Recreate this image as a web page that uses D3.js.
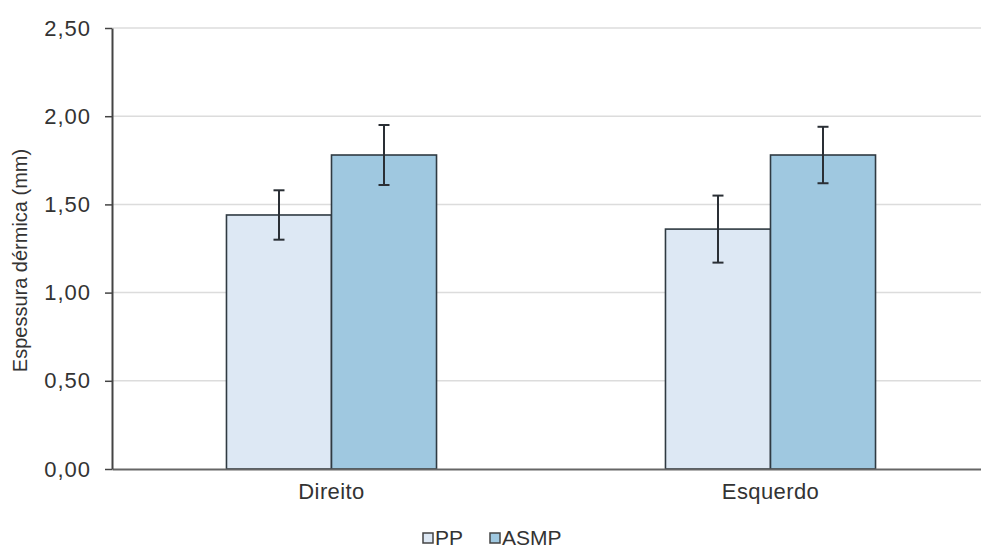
<!DOCTYPE html>
<html>
<head>
<meta charset="utf-8">
<script src="https://cdn.jsdelivr.net/npm/d3@7"></script>
<style>
  html, body { margin: 0; padding: 0; background: #fff; }
  svg { display: block; font-family: "Liberation Sans", Arial, sans-serif; }
</style>
</head>
<body>
<svg id="chart" width="981" height="550"></svg>
<script>
const categories = ["Direito", "Esquerdo"];
const series = ["PP", "ASMP"];
const ppValues = [1.44, 1.36];
const ppErrors = [0.14, 0.19];
const asmpValues = [1.78, 1.78];
const asmpErrors = [0.17, 0.16];
const yTicks = [0, 0.5, 1.0, 1.5, 2.0, 2.5];
const colors = { PP: "#dde8f4", ASMP: "#9fc8e0" };

const data = categories.map((c, i) => ({
  category: c,
  values: [
    { key: "PP", value: ppValues[i], err: ppErrors[i] },
    { key: "ASMP", value: asmpValues[i], err: asmpErrors[i] }
  ]
}));

const svg = d3.select("#chart");
const mLeft = 112, mRight = 990, mTop = 28, mBottom = 469;

const x0 = d3.scaleBand().domain(categories).range([mLeft, mRight]).padding(0);
const x1 = d3.scaleBand().domain(series).range([0, x0.bandwidth()]).paddingInner(0).paddingOuter(1.09);
const y = d3.scaleLinear().domain([0, 2.5]).range([mBottom, mTop]);

// gridlines
svg.append("g")
  .selectAll("line")
  .data(yTicks.filter(t => t > 0))
  .join("line")
  .attr("x1", mLeft).attr("x2", 981)
  .attr("y1", d => y(d)).attr("y2", d => y(d))
  .attr("stroke", "#dcdcdc").attr("stroke-width", 1.5);

// bars
const groups = svg.append("g").selectAll("g")
  .data(data).join("g")
  .attr("transform", d => `translate(${x0(d.category)},0)`);

groups.selectAll("rect")
  .data(d => d.values).join("rect")
  .attr("x", d => x1(d.key))
  .attr("width", x1.bandwidth())
  .attr("y", d => y(d.value))
  .attr("height", d => y(0) - y(d.value))
  .attr("fill", d => colors[d.key])
  .attr("stroke", "#2f3a42").attr("stroke-width", 1.6);

// error bars
const capW = 11;
const eb = groups.selectAll("g.err")
  .data(d => d.values).join("g").attr("class", "err")
  .attr("stroke", "#2a2f35").attr("stroke-width", 2);
eb.append("line")
  .attr("x1", d => x1(d.key) + x1.bandwidth() / 2)
  .attr("x2", d => x1(d.key) + x1.bandwidth() / 2)
  .attr("y1", d => y(d.value + d.err))
  .attr("y2", d => y(d.value - d.err));
eb.append("line")
  .attr("x1", d => x1(d.key) + x1.bandwidth() / 2 - capW / 2)
  .attr("x2", d => x1(d.key) + x1.bandwidth() / 2 + capW / 2)
  .attr("y1", d => y(d.value + d.err))
  .attr("y2", d => y(d.value + d.err));
eb.append("line")
  .attr("x1", d => x1(d.key) + x1.bandwidth() / 2 - capW / 2)
  .attr("x2", d => x1(d.key) + x1.bandwidth() / 2 + capW / 2)
  .attr("y1", d => y(d.value - d.err))
  .attr("y2", d => y(d.value - d.err));

// x axis
const xAxis = svg.append("g")
  .attr("transform", `translate(0,${mBottom})`)
  .call(d3.axisBottom(x0).tickSize(0).tickPadding(14));
xAxis.select(".domain").attr("stroke", "#666").attr("stroke-width", 2);
xAxis.selectAll("text").attr("font-size", 22).attr("fill", "#333")
  .attr("letter-spacing", "0.4px")
  .attr("font-family", "Liberation Sans, Arial, sans-serif");

// y axis
const fmt = d => d3.format(".2f")(d).replace(".", ",");
const yAxis = svg.append("g")
  .attr("transform", `translate(${mLeft},0)`)
  .call(d3.axisLeft(y).tickValues(yTicks).tickFormat(fmt).tickSize(7).tickSizeOuter(0).tickPadding(14));
yAxis.select(".domain").attr("stroke", "#444").attr("stroke-width", 2);
yAxis.selectAll(".tick line").attr("stroke", "#444").attr("stroke-width", 1.5);
yAxis.selectAll("text").attr("font-size", 22).attr("fill", "#333")
  .attr("letter-spacing", "1px")
  .attr("font-family", "Liberation Sans, Arial, sans-serif");

// y title
svg.append("text")
  .attr("transform", `translate(27,${(mTop + mBottom) / 2 + 12}) rotate(-90)`)
  .attr("text-anchor", "middle")
  .attr("font-size", 20)
  .attr("fill", "#333")
  .text("Espessura dérmica (mm)");

// legend
const legend = svg.append("g").attr("transform", "translate(423,545)");
series.forEach((s, i) => {
  const g = legend.append("g").attr("transform", `translate(${i === 0 ? 0 : 67},0)`);
  g.append("rect").attr("x", 0).attr("y", -12).attr("width", 10).attr("height", 10)
    .attr("fill", colors[s]).attr("stroke", "#444").attr("stroke-width", 1.5);
  g.append("text").attr("x", 12).attr("y", 0).attr("font-size", 21).attr("fill", "#333").text(s);
});
</script>
</body>
</html>
